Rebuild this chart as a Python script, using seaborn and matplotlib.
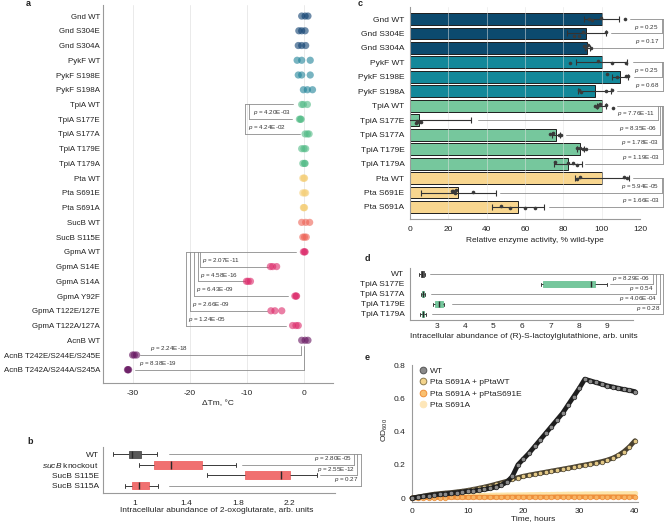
import numpy as np
import pandas as pd
import matplotlib.pyplot as plt
from matplotlib.lines import Line2D
import seaborn as sns

sns.set_style("white")
plt.rcParams["font.family"] = ["Liberation Sans", "DejaVu Sans"]
plt.rcParams.update({
    "font.size": 6.0,
    "axes.unicode_minus": False,
    "mathtext.fontset": "custom",
    "mathtext.rm": "Liberation Sans",
    "mathtext.it": "Liberation Sans:italic",
    "text.color": "#222222",
    "axes.labelcolor": "#222222",
    "xtick.color": "#999999",
    "ytick.color": "#999999",
    "xtick.labelcolor": "#222222",
    "ytick.labelcolor": "#222222",
    "axes.edgecolor": "#9a9a9a",
    "axes.linewidth": 0.8,
})

# ---------------- data ----------------
# a: melting temperature shift, three replicates per protein variant
tm_labels = ["Gnd WT", "Gnd S304E", "Gnd S304A", "PykF WT", "PykF S198E", "PykF S198A",
             "TpiA WT", "TpiA S177E", "TpiA S177A", "TpiA T179E", "TpiA T179A",
             "Pta WT", "Pta S691E", "Pta S691A", "SucB WT", "SucB S115E",
             "GpmA WT", "GpmA S14E", "GpmA S14A", "GpmA Y92F", "GpmA T122E/127E",
             "GpmA T122A/127A", "AcnB WT", "AcnB T242E/S244E/S245E", "AcnB T242A/S244A/S245A"]
tm_groups = ["Gnd"] * 3 + ["PykF"] * 3 + ["TpiA"] * 5 + ["Pta"] * 3 + ["SucB"] * 2 + ["GpmA"] * 6 + ["AcnB"] * 3
tm_values = [[-0.4, 0.2, 0.7], [-0.9, -0.4, 0.2], [-1.0, -0.4, 0.3],
             [-1.2, -0.4, 1.1], [-1.0, -0.4, 1.1], [-0.1, 0.6, 1.5],
             [-0.4, -0.1, 0.6], [-0.8, -0.6, -0.5], [0.2, 0.6, 0.9], [-0.4, 0.0, 0.3], [-0.2, 0.1, 0.2],
             [-0.2, 0.0, 0.1], [-0.2, 0.1, 0.3], [-0.1, 0.0, 0.1],
             [-0.4, 0.3, 1.0], [-0.2, 0.1, 0.4],
             [-0.1, 0.1, 0.2], [-5.9, -5.5, -4.8], [-10.1, -9.8, -9.4], [-1.6, -1.4, -1.3],
             [-5.8, -5.1, -3.9], [-2.0, -1.4, -1.0],
             [-0.4, 0.2, 0.7], [-30.1, -29.8, -29.4], [-31.0, -30.9, -30.8]]
tm_pvals_tpia = ["4.20E-03", "4.24E-02"]
tm_pvals_gpma = ["2.07E-11", "4.58E-16", "6.43E-09", "2.66E-09", "1.24E-05"]
tm_pvals_acnb = ["2.24E-18", "8.38E-19"]

# b: 2-oxoglutarate, five-number summary (whisker low, q1, median, q3, whisker high)
oxo_labels = ["WT", r"$\it{sucB}$ knockout", "SucB S115E", "SucB S115A"]
oxo_summary = [[0.83, 0.95, 0.98, 1.05, 1.17],
               [1.03, 1.15, 1.28, 1.52, 1.78],
               [1.56, 1.85, 2.13, 2.20, 2.41],
               [0.92, 0.98, 1.03, 1.11, 1.18]]
oxo_pvals = ["2.80E-05", "2.55E-12", "0.27"]

# c: relative enzyme activity
act_labels = ["Gnd WT", "Gnd S304E", "Gnd S304A", "PykF WT", "PykF S198E", "PykF S198A",
              "TpiA WT", "TpiA S177E", "TpiA S177A", "TpiA T179E", "TpiA T179A",
              "Pta WT", "Pta S691E", "Pta S691A"]
act_groups = ["Gnd"] * 3 + ["PykF"] * 3 + ["TpiA"] * 5 + ["Pta"] * 3
act_mean = [100, 92, 92.6, 100, 109.5, 96.4, 100, 4.7, 76.3, 88.9, 82.5, 100, 25.3, 56.3]
act_sd = [9.1, 10, 1.5, 13.3, 4.0, 8.5, 2.5, 27.3, 2.2, 2.0, 7.3, 14.0, 19.4, 13.6]
act_points = [[93.5, 95, 99.5, 112], [85.6, 88.2, 90.3, 102], [91, 92, 93, 94.5],
              [83.3, 98, 105.2, 112.7], [102.6, 107.8, 112.7, 113.9], [88, 89, 102, 105.5],
              [96.5, 97.5, 98.5, 99, 102.5, 106], [3, 3.8, 4.5, 5.6], [73, 74.5, 77.5, 79],
              [87, 88.5, 90, 92], [75.5, 82.5, 85, 87],
              [87, 88.5, 111.5, 113], [22, 22.5, 23.5, 24, 33], [47.5, 52.2, 60.1, 65]]
act_pvals = ["0.25", "0.17", "0.25", "0.68", "7.76E-11", "8.35E-06", "1.78E-03", "1.19E-03",
             "5.94E-05", "1.66E-03"]

# d: (R)-S-lactoylglutathione, five-number summary
lgsh_labels = ["WT", "TpiA S177E", "TpiA S177A", "TpiA T179E", "TpiA T179A"]
lgsh_summary = [[2.38, 2.44, 2.48, 2.55, 2.60],
                [6.67, 6.73, 8.43, 8.55, 9.00],
                [2.45, 2.48, 2.52, 2.56, 2.60],
                [2.88, 2.94, 3.09, 3.23, 3.28],
                [2.43, 2.48, 2.52, 2.56, 2.62]]
lgsh_pvals = ["8.29E-06", "0.54", "4.06E-04", "0.28"]

# e: growth curves
time_h = list(range(41))
od_wt = [0.0, 0.005, 0.01, 0.015, 0.02, 0.022, 0.025, 0.028, 0.032, 0.036,
         0.04, 0.043, 0.047, 0.052, 0.058, 0.066, 0.078, 0.095, 0.13, 0.2,
         0.235, 0.27, 0.31, 0.35, 0.39, 0.43, 0.47, 0.51, 0.56, 0.61,
         0.66, 0.715, 0.705, 0.695, 0.685, 0.675, 0.668, 0.66, 0.653, 0.647, 0.64]
od_comp_wt = [0.0, 0.006, 0.012, 0.018, 0.023, 0.027, 0.03, 0.033, 0.037, 0.041,
              0.046, 0.052, 0.059, 0.066, 0.074, 0.083, 0.092, 0.101, 0.115, 0.123,
              0.131, 0.138, 0.144, 0.15, 0.156, 0.162, 0.168, 0.174, 0.18, 0.186,
              0.193, 0.199, 0.205, 0.212, 0.219, 0.228, 0.24, 0.256, 0.279, 0.308, 0.345]
od_comp_s691e = [0.0, 0.001, 0.002, 0.002, 0.003, 0.003, 0.003, 0.004, 0.004, 0.004,
                 0.004, 0.005, 0.005, 0.005, 0.005, 0.005, 0.005, 0.006, 0.006, 0.006,
                 0.006, 0.006, 0.006, 0.006, 0.006, 0.006, 0.007, 0.007, 0.007, 0.007,
                 0.007, 0.007, 0.007, 0.007, 0.007, 0.007, 0.007, 0.007, 0.007, 0.007, 0.007]
od_s691a = [0.0, 0.002, 0.004, 0.006, 0.008, 0.009, 0.01, 0.011, 0.012, 0.013,
            0.014, 0.015, 0.016, 0.016, 0.017, 0.018, 0.018, 0.019, 0.019, 0.02,
            0.02, 0.021, 0.021, 0.022, 0.022, 0.022, 0.023, 0.023, 0.024, 0.024,
            0.024, 0.025, 0.025, 0.025, 0.026, 0.026, 0.026, 0.027, 0.027, 0.027, 0.028]
growth_names = ["WT", "Pta S691A + pPtaWT", "Pta S691A + pPtaS691E", "Pta S691A"]

# ---------------- styles ----------------
a_colors = {"Gnd": "#0d3f70", "PykF": "#1f8298", "TpiA": "#52bb86", "Pta": "#f5cf78",
            "SucB": "#ee6356", "GpmA": "#dc2a6a", "AcnB": "#661560"}
c_colors = {"Gnd": "#0c4a6e", "PykF": "#13889a", "TpiA": "#76c79d", "Pta": "#f8d68f"}
LINE = dict(color="#8c8c8c", lw=0.6, clip_on=False, zorder=2)
PFS = 4.5
TFS = 6.0

W, H = 667, 523
fig = plt.figure(figsize=(W / 100, H / 100), dpi=100)


def rect(l, t, r, b):
    return [l / W, 1 - b / H, (r - l) / W, (b - t) / H]


def style(ax, ypad=3, ysize=TFS):
    sns.despine(ax=ax)
    ax.tick_params(axis="x", length=3, width=0.6, pad=2, labelsize=TFS)
    ax.tick_params(axis="y", length=0, pad=ypad, labelsize=ysize)
    ax.set_xlabel("")
    ax.set_ylabel("")


def put_xlabel(ax, text, cx, cy):
    ax.set_xlabel(text, fontsize=TFS)
    x, y = ax.transAxes.inverted().transform(fig.transFigure.transform((cx / W, 1 - cy / H)))
    ax.xaxis.set_label_coords(x, y)
    ax.xaxis.label.set_va("center")


def ptext(ax, x, y, s, ha):
    ax.text(x, y, "$p$ = " + s, ha=ha, va="bottom", fontsize=PFS, color="#333333", clip_on=False)


def left_bracket(ax, ref_y, ref_end, items, pvals, dx, dy):
    ax.plot([min(it[1] for it in items), ref_end], [ref_y, ref_y], **LINE)
    for (y, vx, end), p in zip(items, pvals):
        ax.plot([vx, vx], [ref_y, y], **LINE)
        ax.plot([vx, end], [y, y], **LINE)
        ptext(ax, vx + dx, y - dy, p, "left")


def right_bracket(ax, ref_y, ref_start, items, pvals, dx, dy):
    ax.plot([ref_start, max(it[2] for it in items)], [ref_y, ref_y], **LINE)
    for (y, start, vx), p in zip(items, pvals):
        ax.plot([vx, vx], [ref_y, y], **LINE)
        ax.plot([start, vx], [y, y], **LINE)
        ptext(ax, vx - dx, y - dy, p, "right")


# ---------------- a ----------------
ax_a = fig.add_axes(rect(103, 5, 333, 383))
counts = [len(v) for v in tm_values]
tm_df = pd.DataFrame({"mutant": np.repeat(tm_labels, counts),
                      "group": np.repeat(tm_groups, counts),
                      "dtm": np.concatenate(tm_values)})
for x in [-30, -20, -10, 0]:
    ax_a.axvline(x, color="#e6e6e6", lw=0.6, zorder=0)
sns.stripplot(data=tm_df, x="dtm", y="mutant", hue="group", palette=a_colors, order=tm_labels,
              jitter=False, size=5.2, alpha=0.6, linewidth=0, legend=False, ax=ax_a, zorder=3)
ax_a.set_xlim(-35.3, 5.1)
ax_a.set_ylim(24.9, -0.75)
ax_a.set_xticks([-30, -20, -10, 0])
style(ax_a, ypad=2.2, ysize=5.7)
put_xlabel(ax_a, "ΔTm, °C", 218, 404)
left_bracket(ax_a, 6, -1.9, [(7, -9.6, -2.1), (8, -10.4, -0.7)], tm_pvals_tpia, 0.6, 0.12)
left_bracket(ax_a, 16, -1.4,
             [(17, -18.25, -6.3), (18, -18.65, -10.35), (19, -19.4, -2.8),
              (20, -20.0, -6.5), (21, -20.75, -3.2)], tm_pvals_gpma, 0.35, 0.12)
for (y, vx, end, tx), p in zip([(23, -0.6, -28.8, -27.1), (24, 0.0, -29.6, -29.05)], tm_pvals_acnb):
    ax_a.plot([vx, vx], [22.4, y], **LINE)
    ax_a.plot([end, vx], [y, y], **LINE)
    ptext(ax_a, tx, y - 0.12, p, "left")

# ---------------- b ----------------
ax_b = fig.add_axes(rect(103, 447, 335, 493))
oxo_df = pd.DataFrame({"strain": np.repeat(oxo_labels, 5), "value": np.concatenate(oxo_summary)})
oxo_pal = {oxo_labels[0]: "#5a5a5a", oxo_labels[1]: "#f07070", oxo_labels[2]: "#f07070",
           oxo_labels[3]: "#f07070"}
sns.boxplot(data=oxo_df, x="value", y="strain", hue="strain", palette=oxo_pal, order=oxo_labels,
            whis=(0, 100), width=0.72, saturation=1, linewidth=0.7, linecolor="#3a3a3a",
            fliersize=0, legend=False, ax=ax_b,
            medianprops=dict(color="#2a2a2a", lw=1.0))
for patch in ax_b.patches:
    patch.set_edgecolor(patch.get_facecolor())
ax_b.set_xlim(0.752, 2.55)
ax_b.set_ylim(3.7, -0.7)
ax_b.set_xticks([1, 1.4, 1.8, 2.2])
ax_b.set_xticklabels(["1", "1.4", "1.8", "2.2"])
ax_b.set_xticks([1.2, 1.6, 2.0, 2.4], minor=True)
style(ax_b)
ax_b.tick_params(axis="x", which="minor", length=3, width=0.6, color="#999999")
put_xlabel(ax_b, "Intracellular abundance of 2-oxoglutarate, arb. units", 217, 511)
right_bracket(ax_b, 0, 1.26, [(1, 1.83, 2.698), (2, 2.43, 2.723), (3, 1.26, 2.75)],
              oxo_pvals, 0.016, 0.15)

# ---------------- c ----------------
ax_c = fig.add_axes(rect(410, 7, 640, 219))
sns.barplot(x=act_mean, y=act_labels, hue=act_groups, palette=c_colors, dodge=False,
            saturation=1, width=0.82, edgecolor="#1e1e1e", linewidth=0.7, errorbar=None,
            legend=False, ax=ax_c)
for x in [20, 40, 60, 80, 100]:
    ax_c.axvline(x, color="#e2e2e2", lw=0.6, alpha=0.6, zorder=1.5)
ax_c.errorbar(act_mean, np.arange(len(act_labels)), xerr=act_sd, fmt="none", ecolor="#333333",
              elinewidth=0.8, capsize=2.2, capthick=0.8, zorder=4)
pcounts = [len(v) for v in act_points]
act_df = pd.DataFrame({"label": np.repeat(act_labels, pcounts), "value": np.concatenate(act_points)})
np.random.seed(3)
sns.stripplot(data=act_df, x="value", y="label", order=act_labels, color="#3a3a3a", size=2.6,
              jitter=0.18, linewidth=0, ax=ax_c, zorder=5)
ax_c.set_xlim(0, 120)
ax_c.set_ylim(13.83, -0.83)
ax_c.set_xticks([0, 20, 40, 60, 80, 100, 120])
style(ax_c, ypad=4)
put_xlabel(ax_c, "Relative enzyme activity, % wild-type", 535, 240)
right_bracket(ax_c, 0, 114.8, [(1, 104.7, 131.4), (2, 95.5, 132.2)], act_pvals[0:2], 1.8, 0.12)
right_bracket(ax_c, 3, 116.2, [(4, 116.9, 131.4), (5, 107.8, 132.2)], act_pvals[2:4], 1.8, 0.12)
right_bracket(ax_c, 6, 107.8, [(7, 35.3, 129.6), (8, 81.6, 130.5), (9, 92.9, 131.4), (10, 91.2, 132.2)],
              act_pvals[4:8], 1.8, 0.12)
right_bracket(ax_c, 11, 116.2, [(12, 47.0, 131.4), (13, 72.5, 132.2)], act_pvals[8:10], 1.8, 0.12)

# ---------------- d ----------------
ax_d = fig.add_axes(rect(410, 268, 633, 320))
lgsh_df = pd.DataFrame({"strain": np.repeat(lgsh_labels, 5), "value": np.concatenate(lgsh_summary)})
lgsh_pal = {lab: ("#5a5a5a" if lab == "WT" else "#76c79d") for lab in lgsh_labels}
sns.boxplot(data=lgsh_df, x="value", y="strain", hue="strain", palette=lgsh_pal, order=lgsh_labels,
            whis=(0, 100), width=0.6, saturation=1, linewidth=0.7, linecolor="#3a3a3a",
            fliersize=0, legend=False, ax=ax_d,
            medianprops=dict(color="#2a2a2a", lw=1.0))
for patch in ax_d.patches:
    patch.set_edgecolor(patch.get_facecolor())
ax_d.set_xlim(2.07, 9.9)
ax_d.set_ylim(4.6, -0.6)
ax_d.set_xticks([3, 4, 5, 6, 7, 8, 9])
style(ax_d, ypad=4)
ax_d.tick_params(axis="x", length=2, pad=0.5)
put_xlabel(ax_d, "Intracellular abundance of (R)-S-lactoylglutathione, arb. units", 524, 336)
right_bracket(ax_d, 0, 2.78, [(1, 9.09, 10.60), (2, 2.8, 10.72), (3, 3.53, 10.84), (4, 2.83, 10.97)],
              lgsh_pvals, 0.1, 0.12)

# ---------------- e ----------------
ax_e = fig.add_axes(rect(412, 365, 638, 502))
growth = [(od_s691a, "#fde3a7", "#fde3a7"), (od_comp_s691e, "#f8b464", "#ee8f3a"),
          (od_comp_wt, "#e2c886", "#4a4230"), (od_wt, "#8a8a8a", "#1e1e1e")]
for od, face, edge in growth:
    sns.lineplot(x=time_h, y=od, ax=ax_e, color=edge, lw=3.4, marker="o", markersize=3.3,
                 markerfacecolor=face, markeredgecolor=edge, markeredgewidth=0.5, clip_on=False,
                 legend=False, zorder=3)
ax_e.set_xlim(0, 40.54)
ax_e.set_ylim(-0.024, 0.8)
ax_e.set_xticks([0, 10, 20, 30, 40])
ax_e.set_yticks([0, 0.2, 0.4, 0.6, 0.8])
ax_e.set_yticklabels(["0", "0.2", "0.4", "0.6", "0.8"])
style(ax_e)
ax_e.tick_params(axis="y", length=3, width=0.6, pad=1.5)
ax_e.tick_params(axis="x", pad=1)
put_xlabel(ax_e, "Time, hours", 533, 519)
ax_e.set_ylabel("OD$_{600}$", fontsize=TFS)
yx, yy = ax_e.transAxes.inverted().transform(fig.transFigure.transform((385 / W, 1 - 430 / H)))
ax_e.yaxis.set_label_coords(yx, yy)
ax_e.yaxis.label.set_va("center")
legend_style = [("#8a8a8a", "#555555"), ("#f3d48c", "#8a7a50"), ("#f9c070", "#ef8f3a"), ("#fde6b8", "#fde6b8")]
handles = [Line2D([], [], ls="none", marker="o", markersize=4.8, markerfacecolor=f,
                  markeredgecolor=e, markeredgewidth=0.7) for f, e in legend_style]
ax_e.legend(handles, growth_names, loc="upper left", bbox_to_anchor=(0.0, 1.03), frameon=False,
            fontsize=TFS, handletextpad=0.2, labelspacing=0.45, handlelength=1.2, borderaxespad=0.3)

# ---------------- panel letters ----------------
for letter, (px, py) in zip("abcde", [(28, 3), (30, 442), (360, 3), (367, 258), (367, 358)]):
    fig.text(px / W, 1 - py / H, letter, fontsize=6.5, fontweight="bold", ha="center", va="center")

fig.savefig("out.png", dpi=100)
